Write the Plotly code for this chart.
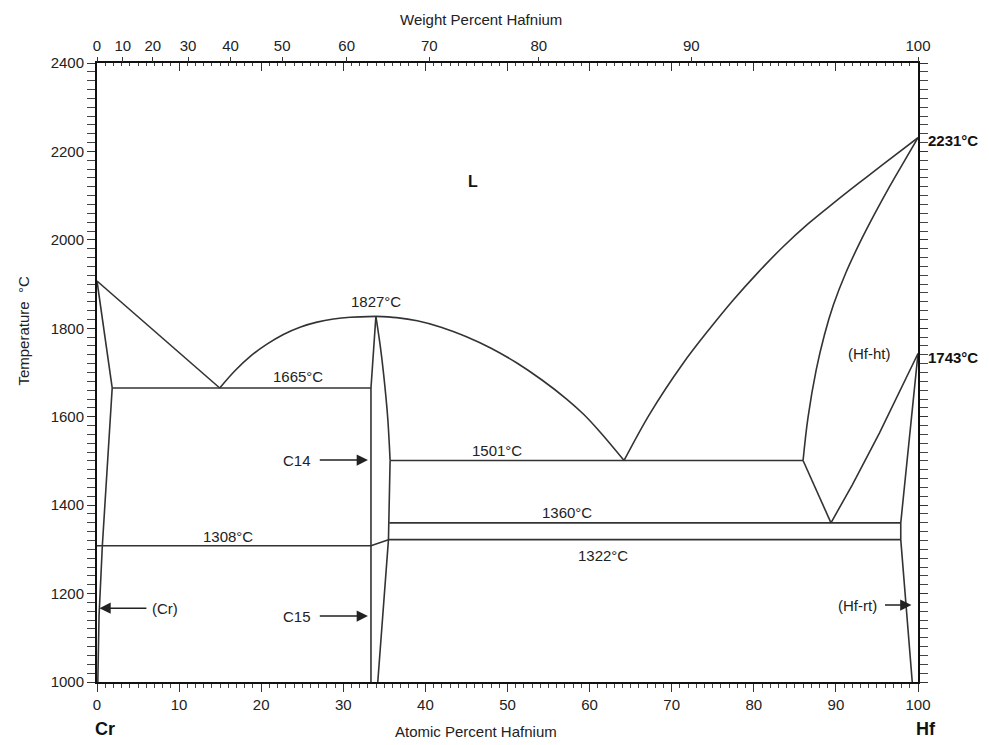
import plotly.graph_objects as go

# ---------------- data (atomic % Hf, temperature °C) ----------------
cr_liquidus_x = [0, 14.95]
cr_liquidus_t = [1907, 1665]
cr_solidus_x = [0, 1.85]
cr_solidus_t = [1907, 1665]
cr_solvus_x = [1.85, 0.65, 0.25, 0.1]
cr_solvus_t = [1665, 1308, 1150, 1000]

c14_liq_left_x = [14.95, 16.8, 18.7, 20.7, 22.7, 24.8, 26.8, 28.8, 30.85, 33.97]
c14_liq_left_t = [1665, 1704, 1737, 1764, 1786, 1803, 1814, 1821, 1825, 1827]
c14_liq_right_x = [33.97, 36.5, 39.0, 42.0, 45.0, 48.0, 51.1, 54.2, 57.2, 59.3, 61.3, 64.2]
c14_liq_right_t = [1827, 1824, 1817, 1802, 1781, 1755, 1722, 1683, 1640, 1605, 1565, 1501]

hf_liquidus_x = [64.2, 67.35, 71.4, 74.5, 77.5, 80.5, 83.6, 86.6, 89.7, 92.7, 95.7, 100]
hf_liquidus_t = [1501, 1607, 1721, 1796, 1864, 1926, 1985, 2036, 2083, 2127, 2170, 2231]
hf_solidus_x = [86.0, 86.6, 87.6, 88.6, 89.7, 91.2, 92.9, 94.7, 96.55, 98.3, 100]
hf_solidus_t = [1501, 1598, 1706, 1785, 1853, 1925, 1993, 2058, 2121, 2177, 2231]

hfht_left_x = [86.0, 89.4]
hfht_left_t = [1501, 1360]
hfht_right_x = [89.4, 92.0, 95.3, 98.0, 100]
hfht_right_t = [1360, 1446, 1563, 1667, 1743]
hfrt_solvus_x = [100, 97.9, 97.9, 99.3]
hfrt_solvus_t = [1743, 1360, 1322, 1000]

c14_left_x = [33.97, 33.37, 33.37]
c14_left_t = [1827, 1665, 1000]
c14_right_x = [33.97, 34.5, 34.9, 35.4, 35.7]
c14_right_t = [1827, 1760, 1698, 1600, 1501]
c15_right_x = [35.7, 35.6, 35.5, 34.2]
c15_right_t = [1501, 1360, 1322, 1000]

iso_1665_x = [1.85, 33.37]
iso_1665_t = [1665, 1665]
iso_1501_x = [35.7, 86.0]
iso_1501_t = [1501, 1501]
iso_1360_x = [35.6, 97.9]
iso_1360_t = [1360, 1360]
iso_1322_x = [35.5, 97.9]
iso_1322_t = [1322, 1322]
iso_1308_x = [0, 33.37, 35.5]
iso_1308_t = [1308, 1308, 1322]

# labels: (text, x, T)
temp_labels = ["1827°C", "1665°C", "1501°C", "1360°C", "1308°C", "1322°C"]
temp_label_x = [34.0, 24.5, 48.7, 57.25, 16.0, 61.6]
temp_label_t = [1860, 1690, 1524, 1384, 1330, 1285]

wt_ticks = [0, 10, 20, 30, 40, 50, 60, 70, 80, 90, 100]
at_major = list(range(0, 101, 10))
temp_major = list(range(1000, 2401, 200))

M_CR, M_HF = 51.996, 178.49


def wt_to_at(w):
    if w >= 100:
        return 100.0
    a = w / M_HF
    b = (100 - w) / M_CR
    return 100 * a / (a + b)


LINE_COLOR = "#333333"
LINE_W = 1.6
FONT = "Liberation Sans, Arial, sans-serif"

fig = go.Figure()


def add(xs, ts, smooth=False):
    fig.add_trace(go.Scatter(
        x=xs, y=ts, mode="lines",
        line=dict(color=LINE_COLOR, width=LINE_W,
                  shape="spline" if smooth else "linear", smoothing=1.0),
        hoverinfo="skip", showlegend=False))


add(cr_liquidus_x, cr_liquidus_t)
add(cr_solidus_x, cr_solidus_t)
add(cr_solvus_x, cr_solvus_t)
add(c14_liq_left_x, c14_liq_left_t, True)
add(c14_liq_right_x, c14_liq_right_t, True)
add(hf_liquidus_x, hf_liquidus_t, True)
add(hf_solidus_x, hf_solidus_t, True)
add(hfht_left_x, hfht_left_t)
add(hfht_right_x, hfht_right_t)
add(hfrt_solvus_x, hfrt_solvus_t)
add(c14_left_x, c14_left_t)
add(c14_right_x, c14_right_t, True)
add(c15_right_x, c15_right_t)
for xs, ts in [(iso_1665_x, iso_1665_t), (iso_1501_x, iso_1501_t),
               (iso_1360_x, iso_1360_t), (iso_1322_x, iso_1322_t),
               (iso_1308_x, iso_1308_t)]:
    add(xs, ts)

# invisible traces for the top axes
fig.add_trace(go.Scatter(x=[0, 100], y=[1000, 1000], xaxis="x2", mode="lines",
                         line=dict(width=0), hoverinfo="skip", showlegend=False))
fig.add_trace(go.Scatter(x=[0, 100], y=[1000, 1000], xaxis="x3", mode="lines",
                         line=dict(width=0), hoverinfo="skip", showlegend=False))

ann = []
tf = dict(family=FONT, size=15, color="#222222")
for t, x, y in zip(temp_labels, temp_label_x, temp_label_t):
    ann.append(dict(text=t, x=x, y=y, xref="x", yref="y", showarrow=False, font=tf))

ann.append(dict(text="<b>L</b>", x=45.75, y=2131, xref="x", yref="y", showarrow=False,
                font=dict(family=FONT, size=16, color="#111111")))
ann.append(dict(text="(Hf-ht)", x=94.1, y=1744, xref="x", yref="y", showarrow=False, font=tf))

# phase labels with arrows
ann.append(dict(text="C14", x=24.4, y=1502, xref="x", yref="y", showarrow=False, font=tf))
ann.append(dict(text="C15", x=24.4, y=1149, xref="x", yref="y", showarrow=False, font=tf))
ann.append(dict(text="(Cr)", x=6.4, y=1167, xref="x", yref="y", showarrow=False,
                xanchor="left", font=tf))
ann.append(dict(text="(Hf-rt)", x=95.3, y=1174, xref="x", yref="y", showarrow=False,
                xanchor="right", font=tf))
arrow_style = dict(showarrow=True, arrowhead=2, arrowsize=1.5, arrowwidth=1.5,
                   arrowcolor="#222222", text="", xref="x", yref="y", axref="x", ayref="y")
ann.append(dict(x=33.0, y=1502, ax=26.95, ay=1502, **arrow_style))
ann.append(dict(x=33.0, y=1149, ax=26.95, ay=1149, **arrow_style))
ann.append(dict(x=0.3, y=1167, ax=6.2, ay=1167, **arrow_style))
ann.append(dict(x=99.2, y=1174, ax=95.8, ay=1174, **arrow_style))

bold = dict(family=FONT, size=15, color="#111111")
ann.append(dict(text="<b>2231°C</b>", x=100, y=2224, xref="x", yref="y", xanchor="left",
                xshift=8, showarrow=False, font=bold))
ann.append(dict(text="<b>1743°C</b>", x=100, y=1735, xref="x", yref="y", xanchor="left",
                xshift=8, showarrow=False, font=bold))
ann.append(dict(text="<b>Cr</b>", x=0.01, y=-0.0765, xref="paper", yref="paper",
                xanchor="center", yanchor="middle",
                showarrow=False, font=dict(family=FONT, size=18, color="#111111")))
ann.append(dict(text="<b>Hf</b>", x=1.0094, y=-0.0765, xref="paper", yref="paper",
                xanchor="center", yanchor="middle",
                showarrow=False, font=dict(family=FONT, size=18, color="#111111")))
ann.append(dict(text="Atomic Percent Hafnium", x=0.4618, y=-0.0797, xref="paper", yref="paper",
                xanchor="center", yanchor="middle", showarrow=False, font=tf))
ann.append(dict(text="Weight Percent Hafnium", x=0.468, y=1.070, xref="paper", yref="paper",
                xanchor="center", yanchor="middle", showarrow=False, font=tf))
ann.append(dict(text="Temperature  °C", x=-0.0907, y=0.567, xref="paper", yref="paper",
                xanchor="center", yanchor="middle",
                textangle=-90, showarrow=False, font=tf))

fig.update_layout(
    width=989, height=745,
    margin=dict(l=96.5, r=70.7, t=63.3, b=63.3, pad=0),
    paper_bgcolor="white", plot_bgcolor="white",
    showlegend=False,
    annotations=ann,
    xaxis=dict(range=[0, 100], tickvals=at_major, ticks="outside", ticklen=8, tickwidth=1.2,
               tickcolor="#333", showline=True, linecolor="#111", linewidth=2, mirror=True,
               showgrid=False, zeroline=False, tickfont=tf,
               minor=dict(dtick=1, tick0=0, ticks="outside", ticklen=4, tickcolor="#444",
                          tickwidth=1, showgrid=False)),
    xaxis2=dict(range=[0, 100], overlaying="x", side="top", anchor="y",
                tickvals=[wt_to_at(w) for w in wt_ticks], ticktext=[str(w) for w in wt_ticks],
                ticks="outside", ticklen=5, tickwidth=1.2, tickcolor="#333",
                showline=False, showgrid=False, zeroline=False, tickfont=tf),
    xaxis3=dict(range=[0, 100], overlaying="x", side="top", anchor="y",
                tickvals=at_major, ticks="inside", ticklen=8, tickwidth=1.2, tickcolor="#333",
                showticklabels=False, showline=False, showgrid=False, zeroline=False,
                minor=dict(tickmode="array", tickvals=list(range(0, 101)), ticks="inside",
                           ticklen=3, tickcolor="#444", tickwidth=1, showgrid=False)),
    yaxis=dict(range=[1000, 2400], tickvals=temp_major, ticks="outside", ticklen=8,
               tickwidth=1.2, tickcolor="#333", showline=True, linecolor="#111",
               linewidth=2, mirror="allticks", showgrid=False, zeroline=False, tickfont=tf,
               minor=dict(dtick=20, tick0=1000, ticks="outside", ticklen=4, tickcolor="#444",
                          tickwidth=1, showgrid=False)),
)

fig.write_html("out.html")
